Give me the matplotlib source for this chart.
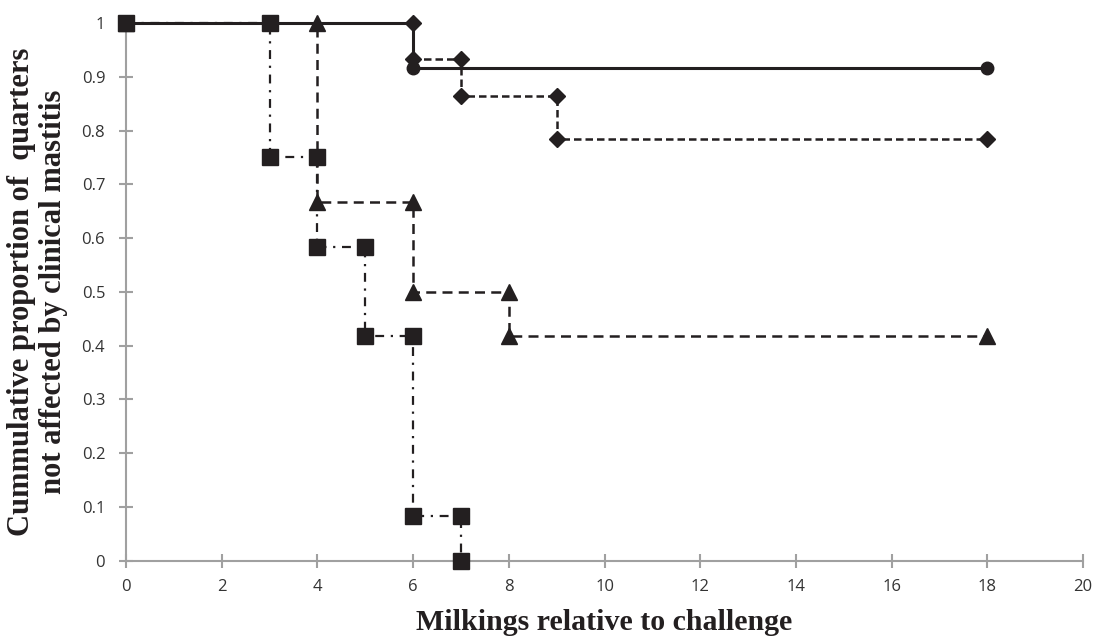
import matplotlib
matplotlib.use('Agg')
import matplotlib.pyplot as plt
import numpy as np

# step curves (corner points), milkings vs proportion not affected
circle_x = [0, 6, 6, 18]
circle_y = [1, 1, 0.917, 0.917]

diamond_x = [0, 6, 6, 7, 7, 9, 9, 18]
diamond_y = [1, 1, 0.933, 0.933, 0.864, 0.864, 0.785, 0.785]

triangle_x = [0, 4, 4, 6, 6, 8, 8, 18]
triangle_y = [1, 1, 0.667, 0.667, 0.5, 0.5, 0.417, 0.417]

square_x = [0, 3, 3, 4, 4, 5, 5, 6, 6, 7, 7]
square_y = [1, 1, 0.75, 0.75, 0.583, 0.583, 0.417, 0.417, 0.083, 0.083, 0]

xticks = np.arange(0, 21, 2)
yticks = np.round(np.arange(0, 1.01, 0.1), 1)
ylabels = ['0', '0.1', '0.2', '0.3', '0.4', '0.5', '0.6', '0.7', '0.8', '0.9', '1']

ink = '#231f20'

fig = plt.figure(figsize=(10.96, 6.36), dpi=100)
ax = fig.add_axes([0.115, 0.1184, 0.8732, 0.8455])

# circle has no marker at the (6, 1) corner in the original
ax.plot(circle_x, circle_y, color=ink, lw=2.2, ls='-', marker='o', ms=9,
        markevery=[0, 2, 3], zorder=3, clip_on=False)
ax.plot(diamond_x, diamond_y, color=ink, lw=1.8, ls=(0, (3, 1.6)), marker='D', ms=8.5,
        zorder=4, clip_on=False)
ax.plot(triangle_x, triangle_y, color=ink, lw=1.8, ls=(0, (4, 2.5)), marker='^', ms=11,
        zorder=5, clip_on=False)
ax.plot(square_x, square_y, color=ink, lw=1.6, ls=(0, (4, 3, 1, 3)), marker='s', ms=11,
        zorder=6, clip_on=False)

ax.set_xlim(0, 20)
ax.set_ylim(0, 1)
ax.set_xticks(xticks)
ax.set_yticks(yticks)
ax.set_yticklabels(ylabels)

for s in ['top', 'right']:
    ax.spines[s].set_visible(False)
for s in ['left', 'bottom']:
    ax.spines[s].set_color('#a0a0a0')
    ax.spines[s].set_linewidth(1.5)
ax.tick_params(direction='inout', length=10, width=1.5, color='#a0a0a0',
               labelsize=12, labelcolor='#333333')
ax.tick_params(axis='x', pad=8)
ax.tick_params(axis='y', pad=10)
for lab in ax.get_xticklabels() + ax.get_yticklabels():
    lab.set_family('Open Sans')

ax.set_xlabel('Milkings relative to challenge', family='Liberation Serif',
              fontweight='bold', fontsize=21.5, labelpad=10, color=ink)
ax.set_ylabel('Cummulative proportion of  quarters\nnot affected by clinical mastitis',
              family='Liberation Serif', fontweight='bold', fontsize=22,
              labelpad=10, color=ink, linespacing=1.1)

plt.savefig('out.png', dpi=100)
